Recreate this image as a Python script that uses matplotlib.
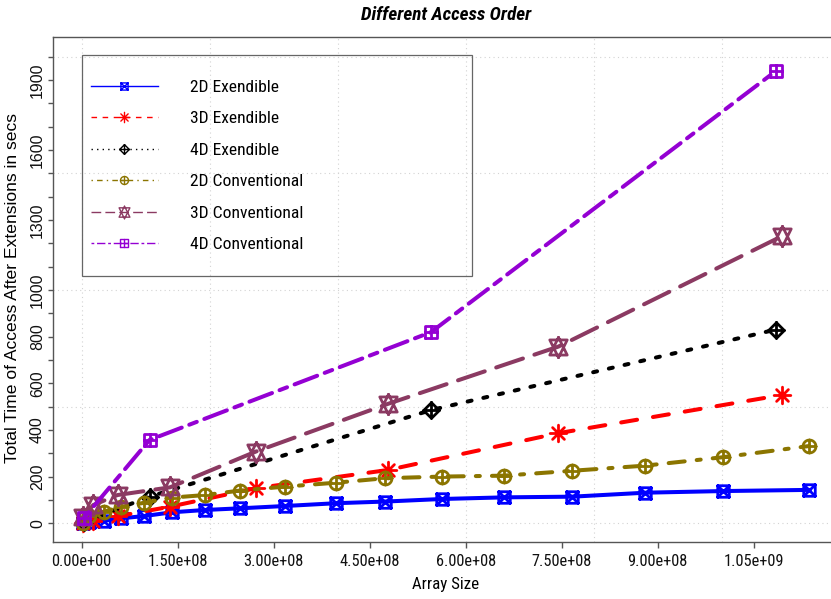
import matplotlib
matplotlib.use("Agg")
import matplotlib.pyplot as plt
from matplotlib.path import Path
from matplotlib.markers import MarkerStyle
from matplotlib.lines import Line2D
from matplotlib.patches import Rectangle
import numpy as np

# ---------------- data ----------------
size_2d = [0.02e8, 0.12e8, 0.35e8, 0.61e8, 0.98e8, 1.41e8, 1.93e8, 2.47e8, 3.18e8,
           3.98e8, 4.74e8, 5.63e8, 6.60e8, 7.67e8, 8.81e8, 10.02e8, 11.37e8]
time_2d_ext = [1, 4, 11, 21, 31, 47, 57, 64, 74, 86, 93, 104, 111, 114, 131, 138, 143]
time_2d_conv = [2, 30, 50, 70, 88, 110, 121, 140, 157, 174, 193, 200, 204, 225, 247, 283, 331]

size_3d = [0.02e8, 0.18e8, 0.56e8, 1.38e8, 2.72e8, 4.78e8, 7.45e8, 10.95e8]
time_3d_ext = [2, 8, 30, 71, 150, 228, 386, 550]
time_3d_conv = [25, 78, 121, 154, 307, 511, 757, 1231]

size_4d = [0.03e8, 1.06e8, 5.46e8, 10.85e8]
time_4d_ext = [5, 114, 485, 830]
time_4d_conv = [21, 357, 819, 1938]

series_labels = ["2D Exendible", "3D Exendible", "4D Exendible",
                 "2D Conventional", "3D Conventional", "4D Conventional"]

xtick_values = [0, 1.5e8, 3.0e8, 4.5e8, 6.0e8, 7.5e8, 9.0e8, 1.05e9]
xtick_labels = ["0.00e+00", "1.50e+08", "3.00e+08", "4.50e+08",
                "6.00e+08", "7.50e+08", "9.00e+08", "1.05e+09"]
ytick_values = list(range(0, 2001, 100))
ytick_labelled = [0, 200, 400, 600, 800, 1000, 1300, 1600, 1900]
xgrid_values = [0, 2e8, 4e8, 6e8, 8e8, 1e9, 1.2e9]
ygrid_values = [0, 500, 1000, 1500, 2000]


# ---------------- marker shapes (R pch 7..12 style) ----------------
def polyline_path(segments):
    verts, codes = [], []
    for seg in segments:
        verts += seg
        codes += [Path.MOVETO] + [Path.LINETO] * (len(seg) - 1)
    return Path(verts, codes)


sq = [(-1, -1), (1, -1), (1, 1), (-1, 1), (-1, -1)]
ang = np.linspace(0, 2 * np.pi, 49)
circ = list(zip(np.cos(ang), np.sin(ang)))
r2 = np.sqrt(2)

pch7 = polyline_path([sq, [(-1, -1), (1, 1)], [(-1, 1), (1, -1)]])
pch8 = polyline_path([[(-r2, 0), (r2, 0)], [(0, -r2), (0, r2)],
                      [(-1, -1), (1, 1)], [(-1, 1), (1, -1)]])
pch9 = polyline_path([[(0, 1), (1, 0), (0, -1), (-1, 0), (0, 1)],
                      [(-1, 0), (1, 0)], [(0, -1), (0, 1)]])
pch10 = polyline_path([circ, [(-1, 0), (1, 0)], [(0, -1), (0, 1)]])
tr0, tr1 = 1.5551, 1.3468
tr2 = 0.5 * (0.7776 + tr0)
pch11 = polyline_path([[(0, tr0), (tr1, -tr2), (-tr1, -tr2), (0, tr0)],
                       [(0, -tr0), (tr1, tr2), (-tr1, tr2), (0, -tr0)]])
pch12 = polyline_path([sq, [(-1, 0), (1, 0)], [(0, -1), (0, 1)]])


def mk(path):
    return MarkerStyle(path, fillstyle="none", joinstyle="round", capstyle="round")


styles = [
    dict(color="#0000FF", ls="-", marker=pch7, ms=8.3),
    dict(color="#FF0000", ls=(0, (4, 4)), marker=pch8, ms=12.0),
    dict(color="#000000", ls=(0, (1, 3)), marker=pch9, ms=11.3),
    dict(color="#8B7500", ls=(0, (1, 3, 4, 3)), marker=pch10, ms=9.3),
    dict(color="#8B3A62", ls=(0, (7, 3)), marker=pch11, ms=14.5),
    dict(color="#9400D3", ls=(0, (2, 2, 6, 2)), marker=pch12, ms=8.6),
]
xs = [size_2d, size_3d, size_4d, size_2d, size_3d, size_4d]
ys = [time_2d_ext, time_3d_ext, time_4d_ext, time_2d_conv, time_3d_conv, time_4d_conv]

# ---------------- figure ----------------
W, H = 831, 599
fig = plt.figure(figsize=(W / 100, H / 100), dpi=100)
fig.patch.set_facecolor("white")

left_px, right_px, top_px, bot_px = 52.7, 845.0, 36.7, 541.7
ax = fig.add_axes([left_px / W, 1 - bot_px / H, (right_px - left_px) / W, (bot_px - top_px) / H])
ax.set_xlim(-0.453e8, 11.93e8)
ax.set_ylim(-79, 2085)

for v in xgrid_values:
    ax.axvline(v, color="#D3D3D3", lw=0.8, ls=(0, (1, 3)), zorder=0)
for v in ygrid_values:
    ax.axhline(v, color="#D3D3D3", lw=0.8, ls=(0, (1, 3)), zorder=0)

LW = 2.9
MEW = 2.0
for x, y, st in zip(xs, ys, styles):
    ax.plot(x, y, color=st["color"], ls=st["ls"], lw=LW,
            dash_capstyle="round", solid_capstyle="round", dash_joinstyle="round",
            marker=mk(st["marker"]), ms=st["ms"], mew=MEW, mec=st["color"],
            zorder=3)

narrow = ["Nimbus Sans Narrow", "Liberation Sans Narrow", "Arial Narrow",
          "Roboto Condensed", "Archivo Narrow", "PT Sans Narrow", "Liberation Sans"]
regular = ["Liberation Sans", "DejaVu Sans"]

axis_col = "#555555"
for s in ["left", "bottom", "top", "right"]:
    ax.spines[s].set_color(axis_col)
    ax.spines[s].set_linewidth(1.0)

ax.set_xticks(xtick_values)
ax.set_xticklabels(xtick_labels, fontfamily=narrow, fontsize=11.8)
ax.tick_params(axis="x", length=4.6, width=1.0, color=axis_col, pad=4.0, labelcolor="#111111")

ax.set_yticks(ytick_values)
ax.set_yticklabels([str(v) if v in ytick_labelled else "" for v in ytick_values],
                   fontfamily=regular, fontsize=11.5, rotation=90, va="center")
ax.tick_params(axis="y", length=3.8, width=1.0, color=axis_col, pad=1.8, labelcolor="#111111")

# titles and axis labels
fig.text(446 / W, 1 - 19.5 / H, "Different Access Order", ha="center", va="baseline",
         fontfamily=narrow, fontweight="bold", fontstyle="italic", fontsize=13.8)
fig.text(446 / W, 1 - 589 / H, "Array Size", ha="center", va="baseline",
         fontfamily=narrow, fontsize=12.2)
fig.text(17.5 / W, 1 - 288 / H, "Total Time of Access After Extensions in secs",
         rotation=90, rotation_mode="anchor", ha="center", va="baseline",
         fontfamily=regular, fontsize=12.6)

# legend
fig.add_artist(Rectangle((81.7 / W, 1 - 275.7 / H), (472.3 - 81.7) / W, (275.7 - 55) / H,
                         transform=fig.transFigure, fill=False, edgecolor="#666666", lw=0.9))
LEG = 0.62
handles = [Line2D([], [], color=st["color"], ls=st["ls"], lw=1.0,
                  marker=mk(st["marker"]), ms=st["ms"] * LEG, mew=1.0, mec=st["color"])
           for st in styles]
fs_leg = 12.6
fpx = fs_leg / 0.72
ax.legend(handles, series_labels, loc="center left",
          bbox_to_anchor=(91 / W, 1 - 165.85 / H), bbox_transform=fig.transFigure,
          frameon=False, borderpad=0, borderaxespad=0, numpoints=1,
          handlelength=66.7 / fpx, handletextpad=32.3 / fpx, labelspacing=0.93,
          prop=dict(family=narrow, size=fs_leg))

fig.savefig("out.png", dpi=100, facecolor="white")
